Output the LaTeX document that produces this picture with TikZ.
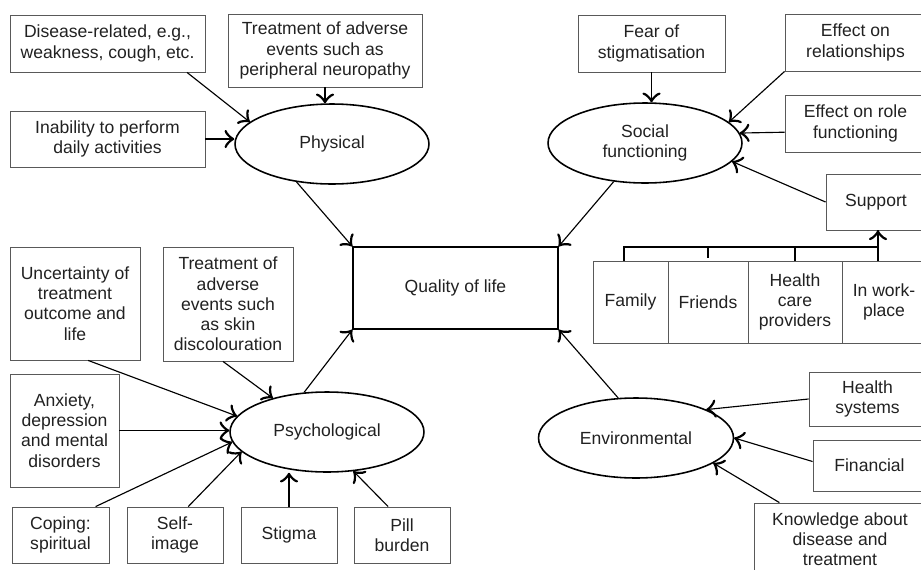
\documentclass[tikz,border=0pt]{standalone}
\usepackage{fontspec}
\setmainfont{Liberation Sans}
\usetikzlibrary{arrows}
\usetikzlibrary{decorations.markings}
\usetikzlibrary{shapes.geometric}
\tikzset{->/.style = {decoration={markings,
                                  mark=at position 1 with {\arrow[scale=2.4]{to}}},
                      postaction={decorate}}}
\tikzset{box/.style = {draw=black!65, line width=0.5pt, align=center, inner sep=2pt}}
\tikzset{area/.style = {draw, ellipse, line width=0.9pt, align=center, inner sep=0}}
\definecolor{ink}{rgb}{0.13, 0.13, 0.13}

\begin{document}
\begin{tikzpicture}[x=0.02cm, y=-0.02cm, line width=0.65pt, text=ink,
                    font=\fontsize{10}{11.5}\selectfont]
    \useasboundingbox (0, 0) rectangle (921, 569);

    % physical
    \node [box, minimum width=3.9cm, minimum height=1.14cm] (dis) at (107.5, 43.5) {Disease-related, e.g.,\\weakness, cough, etc.};
    \node [box, minimum width=3.88cm, minimum height=1.46cm] (periph) at (325, 50.5) {Treatment of adverse\\events such as\\peripheral neuropathy};
    \node [box, minimum width=3.9cm, minimum height=1.12cm] (inab) at (107.5, 139) {Inability to perform\\daily activities};
    \node [area, minimum width=3.88cm, minimum height=1.6cm] (phys) at (332, 144) {Physical};

    % social
    \node [box, minimum width=2.94cm, minimum height=1.14cm] (fear) at (651.5, 43.5) {Fear of\\stigmatisation};
    \node [box, minimum width=2.82cm, minimum height=1.14cm] (rel) at (855.5, 42.5) {Effect on\\relationships};
    \node [box, minimum width=2.82cm, minimum height=1.14cm] (role) at (855.5, 123.5) {Effect on role\\functioning};
    \node [area, minimum width=3.88cm, minimum height=1.6cm] (soc) at (645, 143) {Social\\functioning};
    \node [box, minimum width=2cm, minimum height=1.12cm] (supp) at (876, 202) {Support};
    \node [box, minimum width=1.5cm, minimum height=1.64cm] (fam) at (630.5, 302) {Family};
    \node [box, minimum width=1.6cm, minimum height=1.64cm] (fri) at (708, 302) {Friends};
    \node [box, minimum width=1.88cm, minimum height=1.64cm] (hcp) at (795, 302) {Health\\care\\providers};
    \node [box, minimum width=1.68cm, minimum height=1.64cm] (work) at (884, 302) {In work-\\place};

    \node [box, draw=black, line width=0.9pt, minimum width=4.1cm, minimum height=1.64cm] (qol) at (455.5, 288) {Quality of life};

    % psychological
    \node [box, minimum width=2.6cm, minimum height=2.26cm] (unc) at (75, 303.5) {Uncertainty of\\treatment\\outcome and\\life};
    \node [box, minimum width=2.6cm, minimum height=2.28cm] (skin) at (228, 304) {Treatment of\\adverse\\events such\\as skin\\discolouration};
    \node [box, minimum width=2.18cm, minimum height=2.26cm] (anx) at (64.5, 430.5) {Anxiety,\\depression\\and mental\\disorders};
    \node [area, minimum width=3.88cm, minimum height=1.6cm] (psy) at (327, 432) {Psychological};
    \node [box, minimum width=1.94cm, minimum height=1.12cm] (cop) at (60.5, 535) {Coping:\\spiritual};
    \node [box, minimum width=1.92cm, minimum height=1.12cm] (self) at (175, 535) {Self-\\image};
    \node [box, minimum width=1.92cm, minimum height=1.12cm] (stig) at (289, 535) {Stigma};
    \node [box, minimum width=1.92cm, minimum height=1.12cm] (pill) at (402, 535) {Pill\\burden};

    % environmental
    \node [area, minimum width=3.9cm, minimum height=1.6cm] (env) at (636, 438) {Environmental};
    \node [box, minimum width=2.34cm, minimum height=1.08cm] (hs) at (867.5, 399) {Health\\systems};
    \node [box, minimum width=2.26cm, minimum height=1.02cm] (fin) at (869.5, 465.5) {Financial};
    \node [box, minimum width=3.44cm, minimum height=1.44cm] (know) at (840, 539) {Knowledge about\\disease and\\treatment};

    \draw [->] (dis.-20.7) -- (phys.165.8);
    \draw [->] (periph.south) -- (periph.south |- phys.north);
    \draw [->] (inab.east) -- (inab.east -| phys.west);
    \draw [->] (phys.227.3) -- (qol.north west);

    \draw [->] (fear.south) -- (fear.south |- soc.north);
    \draw [->] (rel.south west) -- (soc.14.5);
    \draw [->] (role.187.7) -- (soc.6);
    \draw [->] (supp.west) -- (soc.-12.2);
    \draw [->] (soc.231.5) -- (qol.north east);

    \coordinate (barL) at (624, 247);
    \coordinate (barR) at (878, 247);
    \draw (barL |- fam.north) -- (barL) -- (barR);
    \draw (fri.north |- barL) -- ++(0, 11);
    \draw (hcp.north |- barL) -- (hcp.north);
    \draw [->] (barR |- work.north) -- (barR |- supp.south);

    \draw [->] (unc.-77) -- (psy.170.7);
    \draw [->] (skin.-95) -- (psy.148.3);
    \draw [->] (anx.east) -- (anx.east -| psy.west);
    \draw [->] (cop.39) -- (psy.186.9);
    \draw [->] (self.65.1) -- (psy.193.4);
    \draw [->] (stig.north) -- (stig.north |- psy.south);
    \draw [->] (pill.116.6) -- (psy.-56.6);
    \draw [->] (psy.120.5) -- (qol.south west);

    \draw [->] (env.114.2) -- (qol.south east);
    \draw [->] (hs.west) -- (env.22.1);
    \draw [->] (fin.176) -- (env.east);
    \draw [->] (know.149.5) -- (env.-18.4);

  \end{tikzpicture}
\end{document}
